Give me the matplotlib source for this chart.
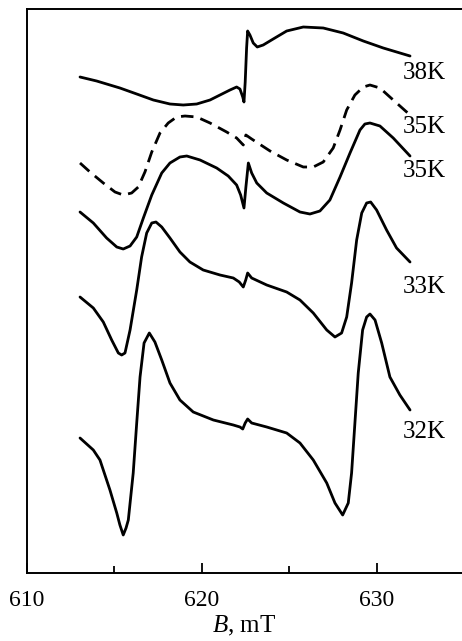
"""EPR-линии при разных температурах: B (mT) против сигнала (отн. ед.), смещённые кривые."""

import matplotlib

matplotlib.use("Agg")
import matplotlib.pyplot as plt

# поле, mT / сигнал (отн. ед., уже со сдвигом по вертикали)
B_38 = [613.03, 613.98, 615.31, 616.27, 617.22, 618.17, 618.93, 619.7, 620.46, 621.03,
        621.6, 621.98, 622.17, 622.33, 622.4, 622.47, 622.55, 622.61, 622.74, 622.93,
        623.16, 623.5, 624.07, 624.84, 625.79, 626.93, 628.07, 629.22, 630.36, 631.89]
S_38 = [496, 492, 485, 479, 473, 469, 468, 469, 473, 478,
        483, 486, 484, 476, 471, 491, 525, 542, 538, 530,
        526, 528, 534, 542, 546, 545, 540, 532, 525, 517]

B_35d = [613.03, 613.6, 614.36, 615.03, 615.5, 615.98, 616.36, 616.74, 617.13, 617.6,
         618.07, 618.55, 619.03, 619.7, 620.46, 621.41, 621.98, 622.36, 622.46, 622.51,
         622.84, 623.89, 624.84, 625.79, 626.36, 626.93, 627.5, 627.89, 628.27, 628.74,
         629.22, 629.6, 630.17, 630.93, 631.89]
S_35d = [410, 401, 390, 381, 378, 380, 386, 401, 421, 440,
         450, 456, 457, 456, 450, 441, 435, 428, 435, 438,
         434, 422, 413, 406, 406, 411, 425, 443, 463, 478,
         486, 488, 485, 473, 458]

B_35 = [613.03, 613.79, 614.55, 615.13, 615.5, 615.89, 616.27, 616.65, 617.13, 617.7,
        618.17, 618.74, 619.13, 619.89, 620.84, 621.5, 621.98, 622.21, 622.4, 622.51,
        622.65, 622.84, 623.13, 623.7, 624.65, 625.6, 626.17, 626.74, 627.31, 627.89,
        628.46, 629.03, 629.31, 629.6, 630.17, 630.93, 631.89]
S_35 = [361, 350, 335, 326, 324, 327, 336, 355, 378, 400,
        410, 416, 417, 413, 405, 397, 388, 378, 365, 386,
        410, 400, 390, 380, 370, 361, 359, 362, 373, 396,
        420, 443, 449, 450, 447, 435, 417]

B_33 = [613.03, 613.79, 614.36, 614.84, 615.22, 615.41, 615.6, 615.89, 616.27, 616.55,
        616.84, 617.13, 617.37, 617.7, 618.17, 618.74, 619.31, 620.07, 621.03, 621.79,
        622.13, 622.36, 622.5, 622.61, 622.84, 623.7, 624.84, 625.6, 626.36, 627.13,
        627.6, 627.98, 628.27, 628.55, 628.84, 629.13, 629.41, 629.64, 629.98, 630.55,
        631.12, 631.89]
S_33 = [276, 265, 251, 233, 220, 218, 220, 243, 283, 316,
        340, 350, 351, 346, 335, 321, 311, 303, 298, 295,
        291, 286, 293, 300, 295, 288, 281, 273, 260, 243,
        236, 240, 256, 290, 333, 360, 370, 371, 363, 343,
        325, 311]

B_32 = [613.03, 613.79, 614.17, 614.74, 615.13, 615.31, 615.5, 615.66, 615.79, 616.07,
        616.27, 616.46, 616.69, 616.99, 617.31, 617.7, 618.17, 618.74, 619.5, 620.65,
        621.79, 622.17, 622.33, 622.47, 622.61, 622.84, 623.7, 624.84, 625.6, 626.36,
        627.13, 627.6, 628.04, 628.36, 628.55, 628.74, 628.93, 629.18, 629.41, 629.6,
        629.89, 630.27, 630.74, 631.31, 631.89]
S_32 = [135, 123, 113, 83, 60, 48, 38, 45, 53, 100,
        150, 196, 230, 240, 231, 213, 190, 173, 161, 153,
        148, 146, 144, 150, 154, 150, 146, 140, 130, 113,
        90, 70, 58, 70, 100, 150, 200, 243, 256, 259,
        253, 230, 196, 178, 163]

# подписи температур
LABELS = ["38K", "35K", "35K", "33K", "32K"]
LABEL_Y = [500, 446, 402, 286, 141]
LABEL_B = 631.5

XTICKS = [610, 620, 630]
XMINOR = [615, 625]

plt.rcParams["font.family"] = ["Liberation Serif", "DejaVu Serif"]
plt.rcParams["mathtext.fontset"] = "custom"
plt.rcParams["mathtext.it"] = "Liberation Serif:italic"
plt.rcParams["mathtext.rm"] = "Liberation Serif"

fig = plt.figure(figsize=(4.62, 6.41), dpi=100)
ax = fig.add_axes([27 / 462, 68 / 641, 1 - 27 / 462, 564 / 641])

lw = 2.0
kw = dict(color="black", lw=lw, solid_joinstyle="round", solid_capstyle="round")
ax.plot(B_38, S_38, **kw)
ax.plot(B_35d, S_35d, color="black", lw=lw, linestyle=(0, (4.5, 2.6)))
ax.plot(B_35, S_35, **kw)
ax.plot(B_33, S_33, **kw)
ax.plot(B_32, S_32, **kw)

for txt, y in zip(LABELS, LABEL_Y):
    ax.text(LABEL_B, y, txt, ha="left", va="center", fontsize=18)

ax.set_xlim(610, 634.86)
ax.set_ylim(0, 564)
ax.set_xticks(XTICKS)
ax.set_xticks(XMINOR, minor=True)
ax.set_yticks([])
ax.tick_params(axis="x", which="major", direction="in", length=7, width=1.3,
               labelsize=17, pad=12)
ax.tick_params(axis="x", which="minor", direction="in", length=5, width=1.3)
for side in ("left", "bottom", "top"):
    ax.spines[side].set_linewidth(1.4)
ax.spines["right"].set_visible(False)

ax.set_xlabel("$B$, mT", fontsize=18, labelpad=2)

fig.savefig("out.png", dpi=100)
